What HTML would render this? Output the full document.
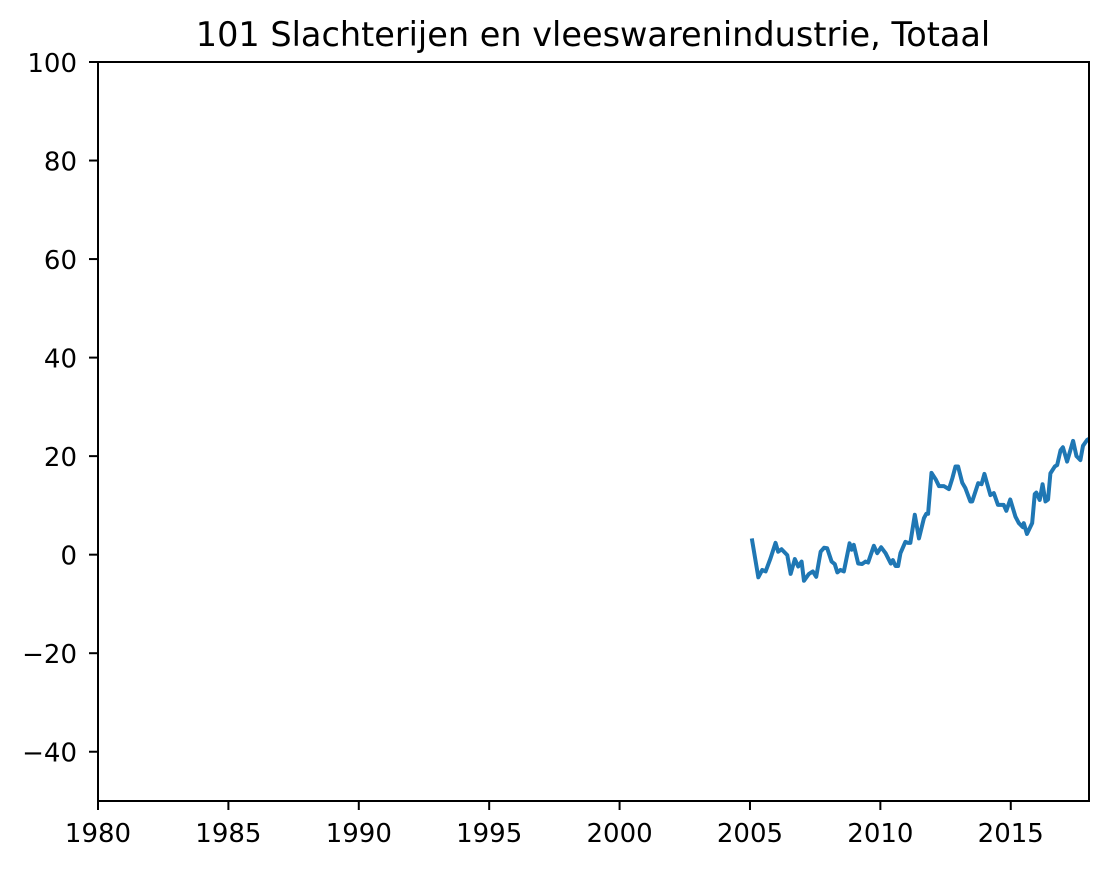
<!DOCTYPE html>
<html><head><meta charset="utf-8"><style>
body{margin:0;background:#fff;}
svg text{font-family:"DejaVu Sans","Liberation Sans",sans-serif;fill:#000;}
</style></head><body>
<svg id="chart" width="1113" height="869" xmlns="http://www.w3.org/2000/svg">
<text x="593" y="46" font-size="33.5" text-anchor="middle">101 Slachterijen en vleeswarenindustrie, Totaal</text>
<g id="plot"></g>
</svg>
<script>
const years=[2005.07,2005.32,2005.47,2005.6,2005.79,2005.98,2006.08,2006.21,2006.43,2006.56,2006.72,2006.85,2006.98,2007.07,2007.26,2007.41,2007.54,2007.71,2007.84,2007.96,2008.13,2008.25,2008.35,2008.47,2008.6,2008.82,2008.9,2008.98,2009.15,2009.3,2009.43,2009.53,2009.75,2009.88,2010.03,2010.2,2010.4,2010.48,2010.58,2010.68,2010.77,2010.96,2011.06,2011.15,2011.32,2011.48,2011.67,2011.76,2011.83,2011.96,2012.12,2012.25,2012.44,2012.63,2012.76,2012.88,2012.98,2013.14,2013.26,2013.45,2013.52,2013.75,2013.88,2013.99,2014.09,2014.22,2014.35,2014.51,2014.73,2014.83,2014.98,2015.18,2015.31,2015.46,2015.5,2015.62,2015.82,2015.92,2015.98,2016.11,2016.22,2016.33,2016.43,2016.52,2016.69,2016.78,2016.91,2017.0,2017.16,2017.39,2017.52,2017.67,2017.77,2017.93,2018.0];
const values=[3.3,-4.6,-3.1,-3.4,-0.7,2.4,0.6,1.1,-0.1,-3.9,-0.9,-2.4,-1.4,-5.3,-3.9,-3.4,-4.5,0.6,1.4,1.3,-1.4,-1.9,-3.6,-3.1,-3.4,2.3,1.0,2.0,-1.8,-1.9,-1.4,-1.6,1.8,0.3,1.5,0.3,-1.8,-1.1,-2.3,-2.3,0.3,2.6,2.4,2.4,8.1,3.3,7.4,8.3,8.3,16.6,15.3,13.9,13.9,13.3,15.5,17.9,17.9,14.6,13.5,10.8,10.8,14.5,14.3,16.4,14.5,12.1,12.5,10.1,10.1,8.9,11.2,7.7,6.4,5.6,6.4,4.2,6.4,12.3,12.6,11.1,14.3,10.8,11.2,16.5,17.9,18.2,21.2,21.8,18.9,23.1,20.0,19.2,22.1,23.3,23.5];
const xTicks=[1980,1985,1990,1995,2000,2005,2010,2015];
const yTicks=[-40,-20,0,20,40,60,80,100];
const L=98,R=1089,T=62,B=801,x0=1980,x1=2018,y0=-50,y1=100;
const X=v=>L+(v-x0)/(x1-x0)*(R-L);
const Y=v=>B-(v-y0)/(y1-y0)*(B-T);
const NS="http://www.w3.org/2000/svg";
const g=document.getElementById('plot');
function mk(t,a){const e=document.createElementNS(NS,t);for(const k in a)e.setAttribute(k,a[k]);g.appendChild(e);return e;}
const line=mk('polyline',{points:years.map((y,i)=>X(y)+','+Y(values[i])).join(' '),fill:'none',stroke:'#1f77b4','stroke-width':4,'stroke-linejoin':'round'});


const frame=mk('rect',{x:L,y:T,width:R-L,height:B-T,fill:'none',stroke:'#000','stroke-width':2});


xTicks.forEach(t=>{
 const tk=mk('line',{x1:X(t),x2:X(t),y1:B,y2:B+9,stroke:'#000','stroke-width':2});
 
 
 const tx=mk('text',{x:X(t),y:842,'font-size':26,'text-anchor':'middle'});
 tx.textContent=t;
 
 
});
yTicks.forEach(t=>{
 const tk=mk('line',{x1:L-9,x2:L,y1:Y(t),y2:Y(t),stroke:'#000','stroke-width':2});
 
 
 const tx=mk('text',{x:L-21,y:Y(t)+10,'font-size':26,'text-anchor':'end'});
 tx.textContent=t<0?'\u2212'+(-t):t;
 
 
});
</script>
</body></html>
